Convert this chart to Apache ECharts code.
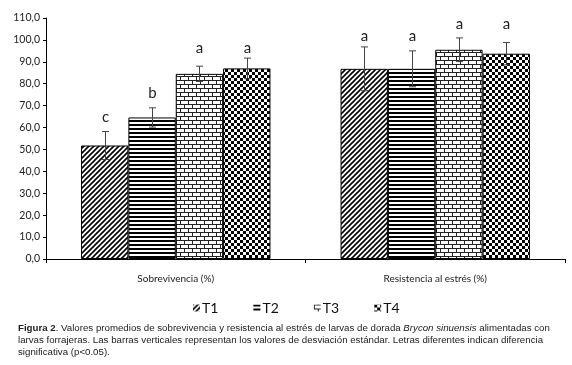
<!DOCTYPE html>
<html><head><meta charset="utf-8">
<script src="https://cdn.jsdelivr.net/npm/echarts@6/dist/echarts.min.js"></script>
<style>html,body{margin:0;padding:0;background:#fff}#c{width:572px;height:365px}</style>
</head><body><div id="c"></div>
<script>
const categories = ['Sobrevivencia (%)', 'Resistencia al estrés (%)'];
const seriesNames = ['T1', 'T2', 'T3', 'T4'];
// values per treatment: [Sobrevivencia, Resistencia]
const T1 = [51.8, 86.8];
const T2 = [64.6, 86.8];
const T3 = [84.5, 95.5];
const T4 = [87.0, 93.7];
// standard deviations
const T1_sd = [6.4, 10.0];
const T2_sd = [4.4, 8.2];
const T3_sd = [3.5, 5.4];
const T4_sd = [4.7, 5.1];
// significance letters and their heights
const T1_letter = ['c', 'a'];
const T2_letter = ['b', 'a'];
const T3_letter = ['a', 'a'];
const T4_letter = ['a', 'a'];
const T1_letterY = [64.6, 101.7];
const T2_letterY = [75.6, 101.7];
const T3_letterY = [96.2, 107.2];
const T4_letterY = [96.2, 107.2];
const yTicks = {min: 0, max: 110, interval: 10};

const values = [T1, T2, T3, T4];
const sds = [T1_sd, T2_sd, T3_sd, T4_sd];
const letters = [T1_letter, T2_letter, T3_letter, T4_letter];
const letterYs = [T1_letterY, T2_letterY, T3_letterY, T4_letterY];

function mk(w, h, draw) {
  const c = document.createElement('canvas');
  c.width = w; c.height = h;
  const x = c.getContext('2d');
  x.fillStyle = '#fff'; x.fillRect(0, 0, w, h);
  draw(x);
  return c;
}
const patterns = [
  mk(5, 5, x => { x.strokeStyle = '#000'; x.lineWidth = 1.6;
    x.beginPath(); x.moveTo(-1, 6); x.lineTo(6, -1); x.moveTo(-1, 1); x.lineTo(1, -1); x.moveTo(4, 6); x.lineTo(6, 4); x.stroke(); }),
  mk(4, 4, x => { x.fillStyle = '#000'; x.fillRect(0, 0, 4, 2); }),
  mk(8, 8, x => { x.fillStyle = '#222'; x.fillRect(0, 0, 8, 1); x.fillRect(0, 4, 8, 1);
    x.fillRect(0, 0, 1, 4); x.fillRect(4, 4, 1, 4); }),
  mk(6, 6, x => { x.fillStyle = '#000'; x.fillRect(0, 0, 3, 3); x.fillRect(3, 3, 3, 3); })
];

const barSeries = seriesNames.map((n, i) => ({
  name: n, type: 'bar', data: values[i], barGap: 0, barCategoryGap: '27%',
  itemStyle: {color: {image: patterns[i], repeat: 'repeat'}, borderColor: '#000', borderWidth: 1},
  emphasis: {disabled: true}
}));

const errData = [];
for (let s = 0; s < 4; s++) for (let c = 0; c < 2; c++)
  errData.push([c, s, values[s][c], sds[s][c], letterYs[s][c], letters[s][c]]);

const errSeries = {
  type: 'custom', data: errData, z: 10, silent: true,
  renderItem: function (params, api) {
    const c = api.value(0), s = api.value(1), v = api.value(2), sd = api.value(3), ly = api.value(4);
    const band = api.size([1, 0])[0];
    const bw = band * 0.73 / 4;
    const off = (s - 1.5) * bw;
    const top = api.coord([c, v + sd]), bot = api.coord([c, v - sd]), lp = api.coord([c, ly]);
    const x = Math.round(top[0] + off) + 0.5;
    const st = {stroke: '#444', lineWidth: 1};
    return {type: 'group', children: [
      {type: 'line', shape: {x1: x, y1: top[1], x2: x, y2: bot[1]}, style: st},
      {type: 'line', shape: {x1: x - 3.5, y1: top[1], x2: x + 3.5, y2: top[1]}, style: st},
      {type: 'line', shape: {x1: x - 3.5, y1: bot[1], x2: x + 3.5, y2: bot[1]}, style: st},
      {type: 'text', x: x, y: lp[1], style: {text: letters[s][c], fill: '#222', font: '15px Lato', align: 'center', verticalAlign: 'middle'}}
    ]};
  }
};

const chart = echarts.init(document.getElementById('c'), null, {renderer: 'canvas'});
chart.setOption({
  animation: false,
  textStyle: {fontFamily: 'Lato'},
  grid: {left: 46, right: 7, top: 18, bottom: 106},
  legend: {
    data: seriesNames, left: 188, top: 296, itemWidth: 7, itemHeight: 7, itemGap: 35,
    icon: 'rect', itemStyle: {borderWidth: 0},
    textStyle: {fontSize: 14, color: '#111', fontFamily: 'Lato', padding: [0, 0, 0, -3]},
    selectedMode: false
  },
  xAxis: {
    type: 'category', data: categories,
    axisLine: {lineStyle: {color: '#000', width: 1}},
    axisTick: {show: true, length: 4, lineStyle: {color: '#000'}},
    axisLabel: {color: '#222', fontSize: 10, margin: 15, fontFamily: 'Lato'}
  },
  yAxis: {
    type: 'value', min: yTicks.min, max: yTicks.max, interval: yTicks.interval,
    splitLine: {show: false},
    axisLine: {show: true, lineStyle: {color: '#000', width: 1}},
    axisTick: {show: true, length: 3, lineStyle: {color: '#000'}},
    axisLabel: {color: '#222', fontSize: 10.5, margin: 6, fontFamily: 'Lato',
      formatter: v => v.toFixed(1).replace('.', ',')}
  },
  graphic: [{
    type: 'text', left: 18, top: 322,
    style: {
      text: '{b|Figura 2}. Valores promedios de sobrevivencia y resistencia al estrés de larvas de dorada {i|Brycon sinuensis} alimentadas con\nlarvas forrajeras. Las barras verticales representan los valores de desviación estándar. Letras diferentes indican diferencia\nsignificativa (p<0.05).',
      font: '9.7px "Liberation Sans"', fill: '#222', lineHeight: 12,
      rich: {b: {fontWeight: 'bold', fontFamily: 'Liberation Sans', fontSize: 9.7}, i: {fontStyle: 'italic', fontFamily: 'Liberation Sans', fontSize: 9.7}}
    }
  }],
  series: barSeries.concat([errSeries])
});
</script></body></html>
